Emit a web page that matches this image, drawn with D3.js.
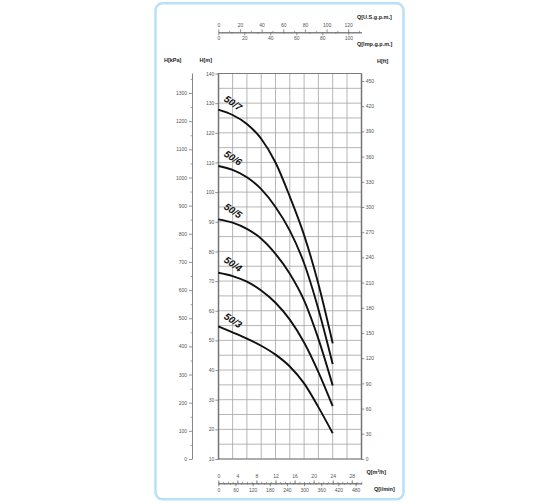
<!DOCTYPE html>
<html><head><meta charset="utf-8">
<script src="https://cdn.jsdelivr.net/npm/d3@7/dist/d3.min.js"></script>
<style>
html,body{margin:0;padding:0;background:#fff;}
svg{display:block;font-family:"Liberation Sans",Arial,sans-serif;}
</style></head>
<body><svg id="c" width="560" height="504"></svg>
<script>
// ---- data ----
const flowQ = [0, 3, 6, 9, 12, 15, 18, 21, 24];           // m3/h
const head507 = [127.8, 126, 123, 118, 110, 98.5, 85.5, 69, 49];
const head506 = [108.8, 107.5, 105, 101, 95, 87, 76, 60.5, 42];
const head505 = [90.8, 89.7, 87.6, 84.3, 79.2, 72.5, 63.5, 50.5, 34.8];
const head504 = [72.8, 71.7, 69.8, 66.8, 62.7, 57, 49.3, 39.3, 27.8];
const head503 = [54.7, 52.7, 50.6, 48.2, 45.2, 41.2, 35.5, 27.5, 18.7];
const seriesNames = ["50/7", "50/6", "50/5", "50/4", "50/3"];
const seriesHeads = [head507, head506, head505, head504, head503];

const mTicks = [10,20,30,40,50,60,70,80,90,100,110,120,130,140];
const kpaTicks = [0,100,200,300,400,500,600,700,800,900,1000,1100,1200,1300];
const ftTicks = [0,30,60,90,120,150,180,210,240,270,300,330,360,390,420,450];
const m3hTicks = [0,4,8,12,16,20,24,28];
const lminTicks = [0,60,120,180,240,300,360,420,480];
const usTicks = [0,20,40,60,80,100,120];
const impTicks = [0,20,40,60,80,100];

// ---- layout ----
const svg = d3.select("#c");
const FONT = '"Liberation Sans",Arial,sans-serif';
const L = 218.3, R = 361.3, T = 73.5, B = 459;
const x = d3.scaleLinear().domain([0, 30]).range([L, R]);
const yM = d3.scaleLinear().domain([10, 140]).range([B, T]);
const yK = d3.scaleLinear().domain([0, 1371]).range([B, 73]);
const yF = d3.scaleLinear().domain([0, 459.5]).range([B, 73]);
const xL = d3.scaleLinear().domain([0, 30 * 1000 / 60]).range([L, R]);
const xUS = d3.scaleLinear().domain([0, 30 * 4.4029]).range([L, R]);
const xImp = d3.scaleLinear().domain([0, 30 * 3.6662]).range([L, R]);
const fmt = d3.format("d");

// frame
svg.append("rect").attr("x", 155.5).attr("y", 3.3).attr("width", 248).attr("height", 496)
  .attr("rx", 7).attr("fill", "none").attr("stroke", "#b8e2f4").attr("stroke-width", 2.5);

// grid
const g = svg.append("g");
g.selectAll("line.v").data(d3.range(0, 30.01, 3)).join("line")
  .attr("x1", d => x(d)).attr("x2", d => x(d)).attr("y1", T).attr("y2", B)
  .attr("stroke", "#a3a3a3").attr("stroke-width", 0.8);
g.selectAll("line.h").data(d3.range(10, 140.01, 5)).join("line")
  .attr("y1", d => yM(d)).attr("y2", d => yM(d)).attr("x1", L).attr("x2", R)
  .attr("stroke", "#a3a3a3").attr("stroke-width", 0.8);
g.append("rect").attr("x", L).attr("y", T).attr("width", R - L).attr("height", B - T)
  .attr("fill", "none").attr("stroke", "#777").attr("stroke-width", 0.9);

function styleAxis(sel) {
  sel.attr("font-family", FONT).attr("font-size", 5);
  sel.selectAll("path.domain").attr("stroke", "#666").attr("stroke-width", 0.8);
  sel.selectAll(".tick line").attr("stroke", "#666").attr("stroke-width", 0.7);
  sel.selectAll(".tick text").attr("fill", "#555");
  return sel;
}
function minor(axis, pos) {
  const a = svg.append("g").attr("transform", pos).call(axis);
  a.select("path.domain").remove();
  a.selectAll(".tick line").attr("stroke", "#666").attr("stroke-width", 0.6);
  a.selectAll("text").remove();
}

// left m axis
styleAxis(svg.append("g").attr("transform", `translate(${L},0)`)
  .call(d3.axisLeft(yM).tickValues(mTicks).tickFormat(fmt).tickSize(3).tickSizeOuter(0).tickPadding(1)));
// kPa axis
styleAxis(svg.append("g").attr("transform", "translate(192,0)")
  .call(d3.axisLeft(yK).tickValues(kpaTicks).tickFormat(fmt).tickSize(3).tickSizeOuter(0).tickPadding(2)));
minor(d3.axisLeft(yK).tickValues(d3.range(50, 1371, 100)).tickSize(1.5).tickSizeOuter(0), "translate(192,0)");
// ft axis
styleAxis(svg.append("g").attr("transform", `translate(${R},0)`)
  .call(d3.axisRight(yF).tickValues(ftTicks).tickFormat(fmt).tickSize(3).tickSizeOuter(0).tickPadding(1.5)));

// bottom axes
const yb = 483.3;
styleAxis(svg.append("g").attr("transform", `translate(0,${yb})`)
  .call(d3.axisTop(x).tickValues(m3hTicks).tickFormat(fmt).tickSize(3).tickSizeOuter(0).tickPadding(2.5)));
minor(d3.axisTop(x).tickValues(d3.range(0, 30.01, 1)).tickSize(1.5).tickSizeOuter(0), `translate(0,${yb})`);
styleAxis(svg.append("g").attr("transform", `translate(0,${yb})`)
  .call(d3.axisBottom(xL).tickValues(lminTicks).tickFormat(fmt).tickSize(3).tickSizeOuter(0).tickPadding(2.5)));
minor(d3.axisBottom(xL).tickValues(d3.range(0, 500.1, 20)).tickSize(1.5).tickSizeOuter(0), `translate(0,${yb})`);

// top axes
const yt = 32.3;
styleAxis(svg.append("g").attr("transform", `translate(0,${yt})`)
  .call(d3.axisTop(xUS).tickValues(usTicks).tickFormat(fmt).tickSize(3).tickSizeOuter(0).tickPadding(2.5)));
minor(d3.axisTop(xUS).tickValues(d3.range(10, 132, 20)).tickSize(1.5).tickSizeOuter(0), `translate(0,${yt})`);
styleAxis(svg.append("g").attr("transform", `translate(0,${yt})`)
  .call(d3.axisBottom(xImp).tickValues(impTicks).tickFormat(fmt).tickSize(3).tickSizeOuter(0).tickPadding(1.5)));
minor(d3.axisBottom(xImp).tickValues(d3.range(10, 110, 20)).tickSize(1.5).tickSizeOuter(0), `translate(0,${yt})`);

// titles
const titles = [
  ["Q[U.S.g.p.m.]", 357, 18.5], ["Q[Imp.g.p.m.]", 357, 46],
  ["H[kPa]", 164, 61.5], ["H[m]", 199.5, 61.5], ["H[ft]", 377, 62.5],
  ["Q[m³/h]", 366.5, 473.5], ["Q[l/min]", 374, 490.5]
];
svg.selectAll("text.ttl").data(titles).join("text").attr("class", "ttl")
  .attr("x", d => d[1]).attr("y", d => d[2]).text(d => d[0])
  .attr("font-family", FONT).attr("font-size", 5.5).attr("font-weight", "bold").attr("fill", "#222");

// curves
const line = d3.line().x(d => x(d[0])).y(d => yM(d[1])).curve(d3.curveMonotoneX);
seriesHeads.forEach((h, i) => {
  const pts = flowQ.map((q, j) => [q, h[j]]);
  svg.append("path").attr("d", line(pts)).attr("fill", "none")
    .attr("stroke", "#111").attr("stroke-width", 1.9);
  const lx = x(flowQ[1]) + 0.5, ly = yM(h[1]) - 12;
  svg.append("text").attr("transform", `translate(${lx},${ly}) rotate(34)`)
    .attr("text-anchor", "middle").attr("dy", "0.35em")
    .attr("font-family", FONT).attr("font-size", 9.8).attr("font-weight", "bold").attr("font-style", "italic")
    .attr("fill", "#111").text(seriesNames[i]);
});
</script></body></html>
